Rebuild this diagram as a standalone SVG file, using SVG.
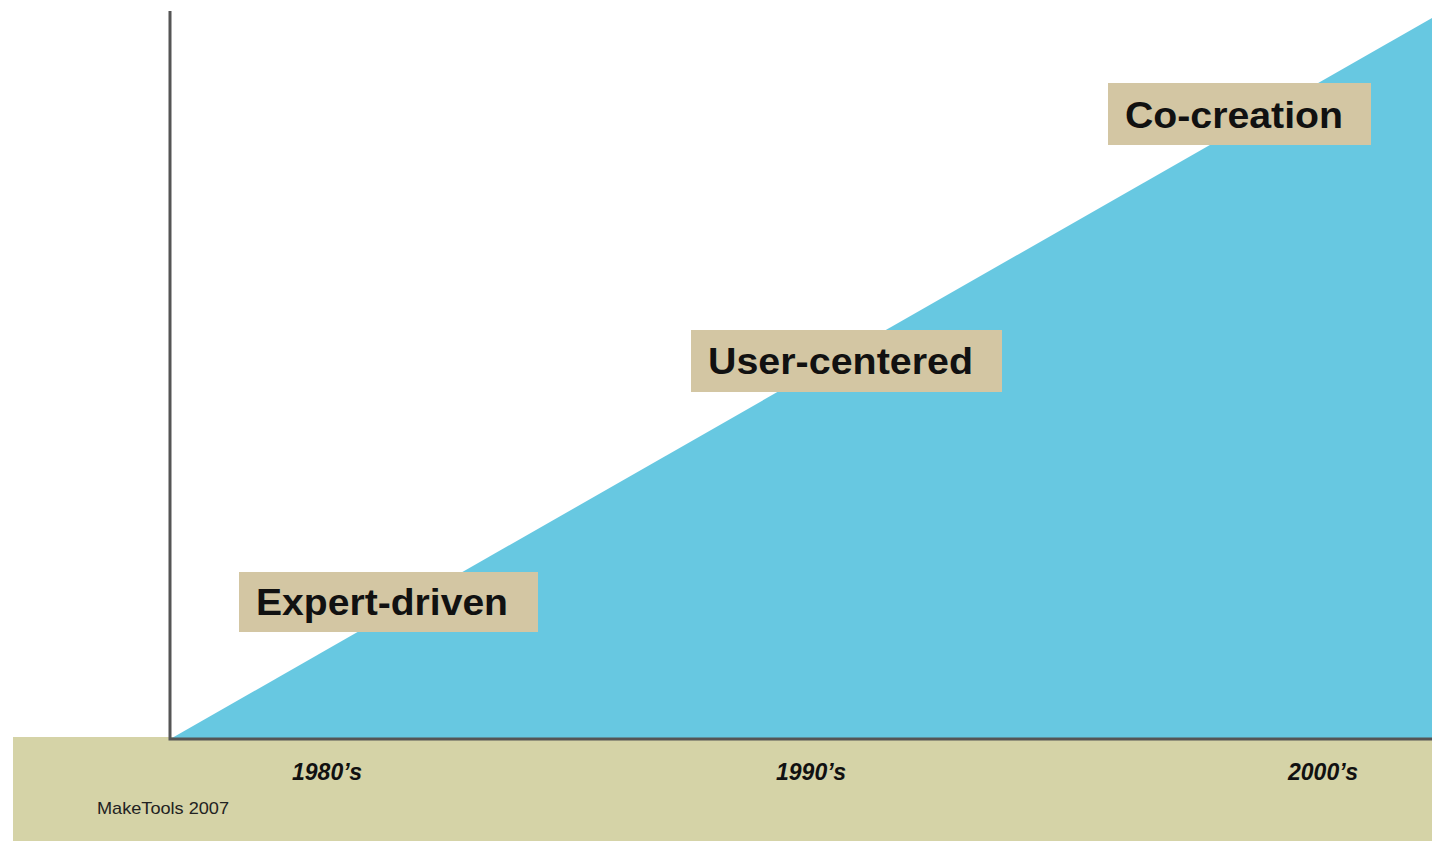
<svg xmlns="http://www.w3.org/2000/svg" width="1432" height="841" viewBox="0 0 1432 841">
<style>
.lbl{fill:#D3C6A3}
.lt{font-family:"Liberation Sans",Arial,sans-serif;font-weight:bold;font-size:37px;fill:#111}
.yr{font-family:"Liberation Sans",Arial,sans-serif;font-weight:bold;font-style:italic;font-size:23px;fill:#111;text-anchor:middle}
.axis{stroke:#555;stroke-width:3;fill:none}
</style>
<rect width="1432" height="841" fill="#fff"/>
<rect id="band" x="13" y="737" width="1419" height="104" fill="#D5D3A7"/>
<polygon id="area" points="172,738 1432,18 1432,738" fill="#67C8E1"/>
<g id="connectors">
<polyline class="axis" points="170,11 170,739 1432,739"/>
</g>
<g id="expert-driven">
<rect class="lbl" x="239" y="572" width="299" height="60"/>
<text class="lt" x="256" y="615" textLength="252" lengthAdjust="spacingAndGlyphs">Expert-driven</text>
</g>
<g id="user-centered">
<rect class="lbl" x="691" y="330" width="311" height="62"/>
<text class="lt" x="708" y="374" textLength="265" lengthAdjust="spacingAndGlyphs">User-centered</text>
</g>
<g id="co-creation">
<rect class="lbl" x="1108" y="83" width="263" height="62"/>
<text class="lt" x="1125" y="128" textLength="218" lengthAdjust="spacingAndGlyphs">Co-creation</text>
</g>
<g id="years">
<text class="yr" x="327" y="780">1980’s</text>
<text class="yr" x="811" y="780">1990’s</text>
<text class="yr" x="1323" y="780">2000’s</text>
</g>
<text id="credit" x="97" y="814" font-family="'Liberation Sans',Arial,sans-serif" font-size="17" fill="#222" textLength="132" lengthAdjust="spacingAndGlyphs">MakeTools 2007</text>
</svg>
